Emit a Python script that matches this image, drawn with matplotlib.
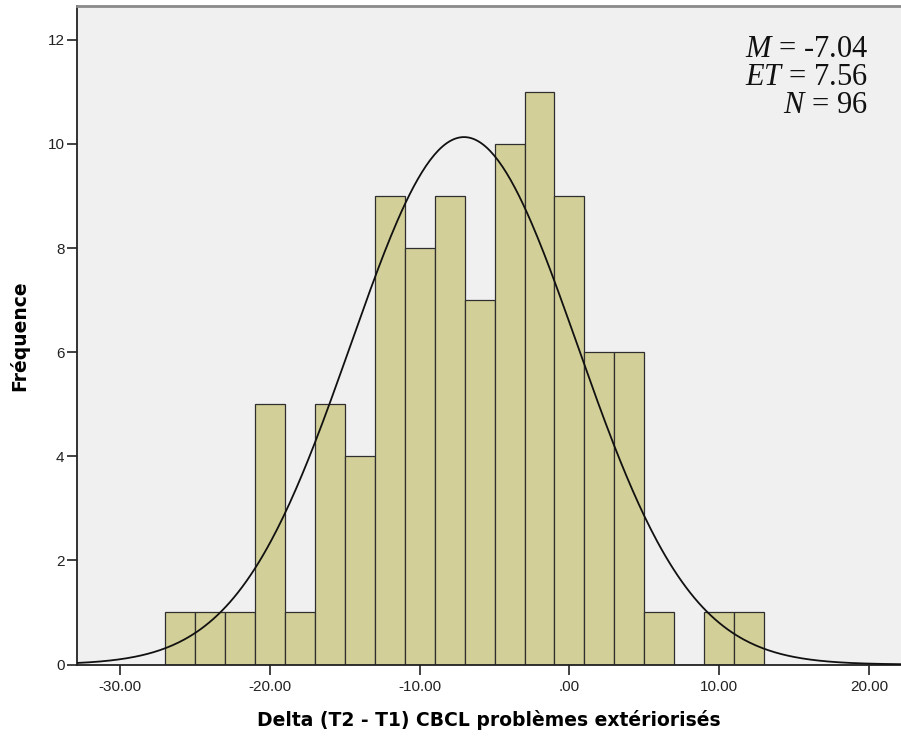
import numpy as np
import matplotlib.pyplot as plt

plt.rcParams['font.family'] = ['Liberation Sans', 'DejaVu Sans']
plt.rcParams['mathtext.fontset'] = 'custom'
plt.rcParams['mathtext.rm'] = 'Liberation Serif'
plt.rcParams['mathtext.it'] = 'Liberation Serif:italic'

# histogram bins (width 2) and counts
bin_edges = np.arange(-27, 14, 2)
counts = [1, 1, 1, 5, 1, 5, 4, 9, 8, 9, 7, 10, 11, 9, 6, 6, 1, 0, 1, 1]

mean = -7.04
sd = 7.56
n = 96

xticks = [-30, -20, -10, 0, 10, 20]
xtick_labels = ["-30.00", "-20.00", "-10.00", ".00", "10.00", "20.00"]
yticks = [0, 2, 4, 6, 8, 10, 12]

fig = plt.figure(figsize=(9.01, 7.37), dpi=100)
ax = fig.add_axes([77 / 901, 72.5 / 737, 824 / 901, 658.5 / 737])
ax.set_facecolor('#f0f0f0')

ax.bar(bin_edges[:-1], counts, width=2, align='edge',
       color='#d3cf98', edgecolor='#2f2f2f', linewidth=0.9, zorder=2)

# normal curve scaled to counts
x0, x1 = -32.87, 22.13
xs = np.linspace(x0, x1, 400)
binw = 2
ys = n * binw / (sd * np.sqrt(2 * np.pi)) * np.exp(-0.5 * ((xs - mean) / sd) ** 2)
ax.plot(xs, ys, color='#111111', linewidth=1.3, zorder=3)

ax.set_xlim(x0, x1)
ax.set_ylim(0, 12.65)
ax.set_xticks(xticks)
ax.set_xticklabels(xtick_labels)
ax.set_yticks(yticks)
ax.tick_params(axis='both', direction='out', length=7, width=1.2,
               colors='#222222', labelsize=11, labelcolor='#222222')
ax.tick_params(axis='y', pad=2)
ax.tick_params(axis='x', pad=4)

for side in ['left', 'bottom']:
    ax.spines[side].set_color('#222222')
    ax.spines[side].set_linewidth(1.3)
ax.spines['top'].set_color('#8a8a8a')
ax.spines['top'].set_linewidth(2)
ax.spines['right'].set_visible(False)

ax.set_xlabel('Delta (T2 - T1) CBCL problèmes extériorisés',
              fontsize=13.5, fontweight='bold', family='DejaVu Sans',
              labelpad=12)
ax.set_ylabel('Fréquence', fontsize=13.5, fontweight='bold',
              family='DejaVu Sans', labelpad=13)

stats = [(r'$M$', '-7.04'), (r'$ET$', '7.56'), (r'$N$', '96')]
for i, (k, v) in enumerate(stats):
    fig.text(868 / 901, 1 - (57 + 28 * i) / 737, k + ' = ' + v,
             ha='right', va='baseline', fontsize=22,
             family='Liberation Serif', color='#111111')

fig.savefig('out.png', dpi=100)
